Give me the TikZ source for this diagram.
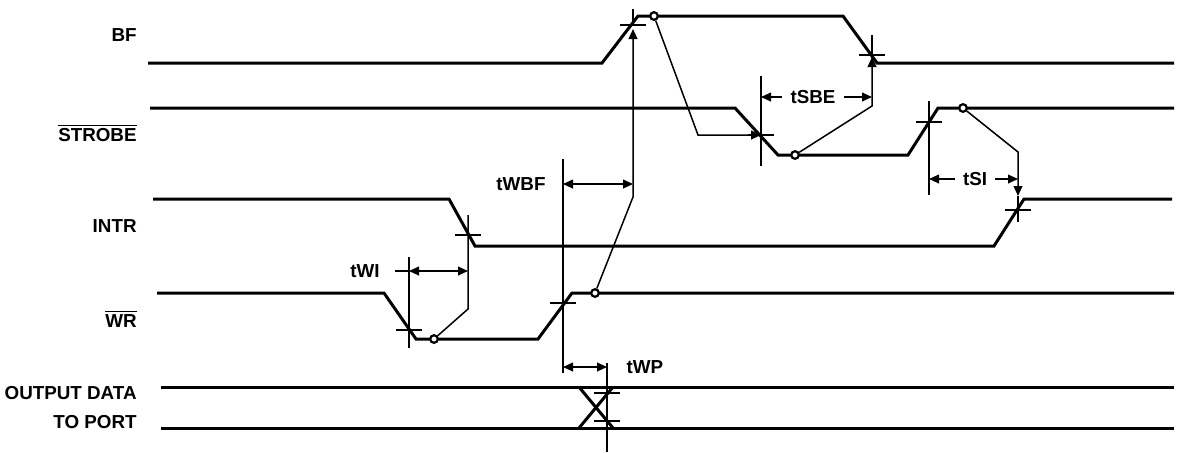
\documentclass[tikz,border=0pt]{standalone}
\usepackage{fontspec}
\setmainfont{Liberation Sans}
\usetikzlibrary{arrows.meta, calc}
\tikzset{
>={Triangle[length=5pt,width=4.4pt]}, % filled arrow heads
signal/.style={line width=1.5pt}, % the waveforms
guide/.style={line width=0.75pt}, % thin reference lines
dot/.style={circle, draw, line width=1.1pt, fill=white, inner sep=0pt, minimum size=3.8pt}, % the small rings on the edges
signame/.style={anchor=east, inner sep=0pt, font=\bfseries\fontsize{9.4}{11}\selectfont}, % signal names on the left
tlabel/.style={font=\bfseries\fontsize{9.4}{11}\selectfont, inner sep=4pt}, % timing names
}

\begin{document}
\begin{tikzpicture}[x=0.5pt, y=-0.5pt]
    \useasboundingbox (0,0) rectangle (1182,452);

    % Signal names
    \node[signame] (bf) at (137,35) {BF};
    \node[signame] (strobe) at (137,133) {$\overline{\mbox{STROBE}}$};
    \node[signame] (intr) at (137,226) {INTR};
    \node[signame] (wr) at (137,319) {$\overline{\mbox{WR}}$};
    \node[signame] (out) at (137,393) {OUTPUT DATA};
    \node[signame] (port) at (137,422) {TO PORT};

    % Waveforms
    \draw[signal] (148,63) -- (602,63) -- (638,16) -- (843,16) -- (877,63) -- (1174,63);
    \draw[signal] (150,108) -- (735,108) -- (778,155) -- (908,155) -- (938,108) -- (1174,108);
    \draw[signal] (153,199) -- (449,199) -- (475,246) -- (994,246) -- (1024,199) -- (1172,199);
    \draw[signal] (157,293) -- (384,293) -- (416,339) -- (538,339) -- (572,293) -- (1174,293);
    \draw[signal] (161,387) -- (1174,387);
    \draw[signal] (161,428) -- (1174,428);
    \draw[signal] (579,387) -- (613,428);
    \draw[signal] (579,428) -- (613,387);

    % Crossing points
    \coordinate (bfr) at (633,25);
    \coordinate (bff) at (872,55);
    \coordinate (stf) at (761,135);
    \coordinate (str) at (929,122);
    \coordinate (inf) at (468,235);
    \coordinate (inr) at (1018,210);
    \coordinate (wrf) at (409,330);
    \coordinate (wrr) at (563,303);
    \coordinate (dt1) at (607,393);
    \coordinate (dt2) at (607,421);
    \foreach \c in {bfr,bff,stf,str,inf,inr,wrf,wrr,dt1,dt2}
        \draw[guide] ($(\c)+(-13,0)$) -- ($(\c)+(13,0)$);

    % Rings
    \node[dot] (bfdot) at (654,16) {};
    \node[dot] (stdot1) at (795,155) {};
    \node[dot] (stdot2) at (963,108) {};
    \node[dot] (wrdot1) at (434,339) {};
    \node[dot] (wrdot2) at (595,293) {};

    % Cause and effect
    \draw[guide] (bfr) -- ++(0,-16);
    \draw[guide, ->] (wrdot2) -- (633,197) -- ($(bfr)+(0,4)$);
    \draw[guide] (bff) -- ++(0,-20);
    \draw[guide, ->] (stdot1) -- (872,106) -- ($(bff)+(0,2)$);
    \draw[guide, ->] (bfdot) -- (698,135) -- (stf);
    \draw[guide, ->] (stdot2) -- (1018,152) -- ($(inr)+(0,-14)$);
    \draw[guide] ($(inr)+(0,-14)$) -- ++(0,26);
    \draw[guide] ($(inf)+(0,-20)$) -- (468,309) -- (wrdot1);

    % Reference lines
    \draw[guide] ($(stf)+(0,-59)$) -- ($(stf)+(0,31)$);
    \draw[guide] ($(str)+(0,-21)$) -- ($(str)+(0,73)$);
    \draw[guide] ($(wrf)+(0,-73)$) -- ($(wrf)+(0,18)$);
    \draw[guide] ($(wrr)+(0,-144)$) -- ($(wrr)+(0,70)$);
    \draw[guide] ($(dt1)+(0,-30)$) -- ($(dt2)+(0,31)$);

    % Timing names
    \node[tlabel] (twi) at (365,271) {tWI};
    \draw[guide] ($(wrf |- twi)+(-14,0)$) -- (wrf |- twi);
    \draw[guide, <->] (wrf |- twi) -- (inf |- twi);

    \node[tlabel] (twbf) at (521,184) {tWBF};
    \draw[guide, <->] (wrr |- twbf) -- (bfr |- twbf);

    \node[tlabel] (tsbe) at (813,97) {tSBE};
    \draw[guide, ->] (tsbe.west) -- (stf |- tsbe);
    \draw[guide, ->] (tsbe.east) -- (bff |- tsbe);

    \node[tlabel] (tsi) at (975,179) {tSI};
    \draw[guide, ->] (tsi.west) -- (str |- tsi);
    \draw[guide, ->] (tsi.east) -- (inr |- tsi);

    \node[tlabel] (twp) at (645,367) {tWP};
    \draw[guide, <->] (wrr |- twp) -- (dt1 |- twp);
\end{tikzpicture}
\end{document}
